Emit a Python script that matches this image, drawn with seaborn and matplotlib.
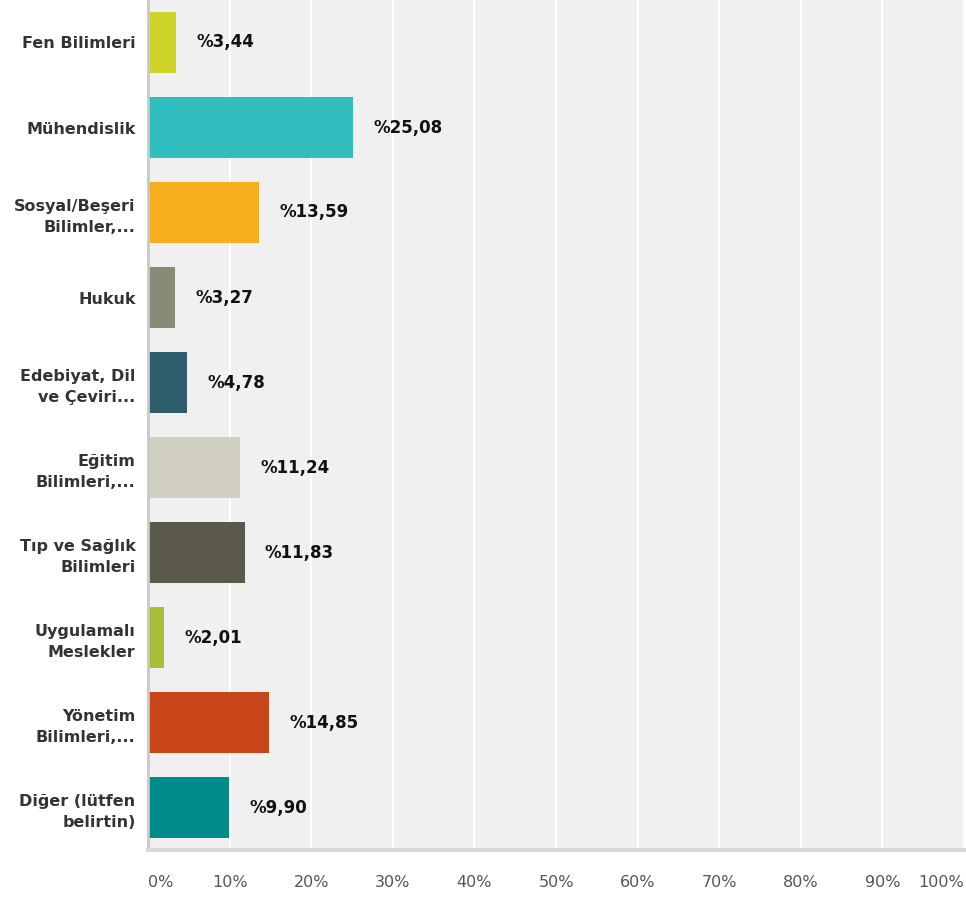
import matplotlib
matplotlib.use("Agg")
import matplotlib.pyplot as plt
import matplotlib.transforms as mtransforms
import seaborn as sns
import pandas as pd

categories = [
    "Fen Bilimleri",
    "Mühendislik",
    "Sosyal/Beşeri\nBilimler,...",
    "Hukuk",
    "Edebiyat, Dil\nve Çeviri...",
    "Eğitim\nBilimleri,...",
    "Tıp ve Sağlık\nBilimleri",
    "Uygulamalı\nMeslekler",
    "Yönetim\nBilimleri,...",
    "Diğer (lütfen\nbelirtin)",
]
values = [3.44, 25.08, 13.59, 3.27, 4.78, 11.24, 11.83, 2.01, 14.85, 9.90]
value_labels = ["%3,44", "%25,08", "%13,59", "%3,27", "%4,78",
                "%11,24", "%11,83", "%2,01", "%14,85", "%9,90"]
colors = ["#cdd425", "#32bdbf", "#f6ae1e", "#898a78", "#2e5e6b",
          "#d0cfc0", "#5b5a4a", "#a8bf39", "#c8461a", "#008b8a"]
tick_values = [0, 10, 20, 30, 40, 50, 60, 70, 80, 90, 100]
tick_labels = ["0%", "10%", "20%", "30%", "40%", "50%", "60%", "70%", "80%", "90%", "100%"]

sns.set_theme(style="white")
plt.rcParams["font.family"] = ["DejaVu Sans"]

df = pd.DataFrame({"cat": categories, "val": values})

fig = plt.figure(figsize=(9.66, 8.97), dpi=100)
ax = fig.add_axes([148 / 966, 47 / 897, (964 - 148) / 966, 850 / 897])
ax.set_facecolor("#f0f0f0")

sns.barplot(data=df, y="cat", x="val", hue="cat", palette=colors, order=categories,
            hue_order=categories, orient="h", width=0.72, legend=False, ax=ax,
            saturation=1, edgecolor="none")

ax.set_xlim(0, 100)
ax.set_ylim(len(categories) - 0.5, -0.5)
ax.set_xticks(tick_values)
ax.set_xticklabels(tick_labels, color="#555555", fontsize=11.5)
xl = ax.get_xticklabels()
xl[0].set_ha("left")
xl[0].set_transform(xl[0].get_transform() + mtransforms.ScaledTranslation(-1 / 100, 0, fig.dpi_scale_trans))
xl[-1].set_ha("right")
xl[-1].set_transform(xl[-1].get_transform() + mtransforms.ScaledTranslation(-1 / 100, 0, fig.dpi_scale_trans))
ax.xaxis.grid(True, color="white", linewidth=1.5)
ax.set_axisbelow(True)
ax.tick_params(axis="x", length=0, pad=18)
ax.tick_params(axis="y", length=0, pad=9)
ax.set_yticks(range(len(categories)))
ax.set_yticklabels(categories, fontsize=11.5, fontweight="bold", color="#333333",
                   ha="right", linespacing=1.5)
ax.set_xlabel("")
ax.set_ylabel("")

for s in ["top", "right"]:
    ax.spines[s].set_visible(False)
ax.spines["left"].set_color("#c8c8c8")
ax.spines["left"].set_linewidth(2)
ax.spines["bottom"].set_color("#d8d8d8")
ax.spines["bottom"].set_linewidth(3)

for i, (v, lab) in enumerate(zip(values, value_labels)):
    ax.text(v + 2.5, i, lab, va="center", ha="left", fontsize=12,
            fontweight="bold", color="#111111")

fig.savefig("out.png", dpi=100, facecolor="white")
